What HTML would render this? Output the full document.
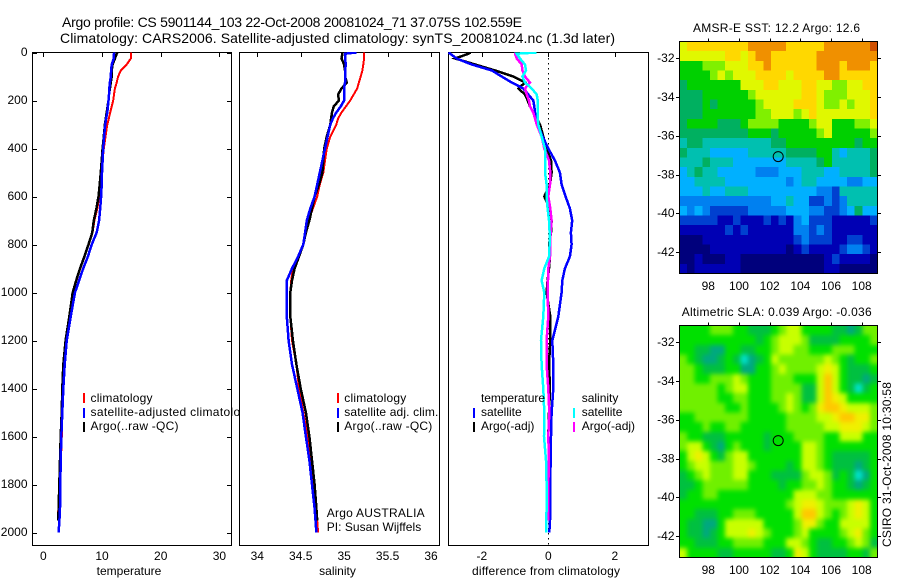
<!DOCTYPE html>
<html lang="en">
<head>
<meta charset="utf-8">
<title>Argo profile</title>
<style>
html,body{margin:0;padding:0;background:#fff;width:900px;height:580px;overflow:hidden}
svg{display:block}
text{font-family:"Liberation Sans",Arial,sans-serif;font-size:12px;fill:#000}
.frame{fill:#fff;stroke:#000;stroke-width:1;shape-rendering:crispEdges}
.bare{fill:none;stroke:#000;stroke-width:1;shape-rendering:crispEdges}
.lg{stroke-width:2;shape-rendering:crispEdges}
</style>
</head>
<body>
<svg id="chart" xmlns="http://www.w3.org/2000/svg" width="900" height="580" viewBox="0 0 900 580">
<defs>
<clipPath id="c1"><rect x="32" y="52" width="199" height="493"/></clipPath>
<clipPath id="c2"><rect x="239" y="52" width="200" height="493"/></clipPath>
<clipPath id="c3"><rect x="448" y="52" width="200" height="493"/></clipPath>
<filter id="soft" x="0" y="0" width="1" height="1" color-interpolation-filters="sRGB">
<feGaussianBlur stdDeviation="2.4"/>
<feComponentTransfer><feFuncA type="linear" slope="3"/></feComponentTransfer>
</filter>
</defs>
<rect x="0" y="0" width="900" height="580" fill="#fff"/>

<text x="62" y="27" style="font-size:14px" textLength="460" lengthAdjust="spacing">Argo profile: CS 5901144_103 22-Oct-2008 20081024_71 37.075S 102.559E</text>
<text x="60" y="43" style="font-size:14px" textLength="555" lengthAdjust="spacing">Climatology: CARS2006. Satellite-adjusted climatology: synTS_20081024.nc (1.3d later)</text>

<g id="panel1">
<rect class="frame" x="32.5" y="52.5" width="199" height="493"/>
<g id="ticks1"></g>
<g id="lines1" clip-path="url(#c1)"></g>
<text x="129" y="575" text-anchor="middle">temperature</text>
<g>
<line class="lg" x1="84" x2="84" y1="393" y2="403" stroke="#ff0000"/>
<text x="90.5" y="402" textLength="62" lengthAdjust="spacing">climatology</text>
<line class="lg" x1="84" x2="84" y1="408" y2="418" stroke="#0000ff"/>
<text x="90.5" y="416" textLength="163" lengthAdjust="spacing">satellite-adjusted climatology</text>
<line class="lg" x1="84" x2="84" y1="422" y2="432" stroke="#000"/>
<text x="90.5" y="430" textLength="88" lengthAdjust="spacing">Argo(..raw -QC)</text>
</g>
</g>

<g id="panel2">
<rect class="frame" x="239.5" y="52.5" width="200" height="493"/>
<g id="ticks2"></g>
<g id="lines2" clip-path="url(#c2)"></g>
<text x="337.5" y="575" text-anchor="middle">salinity</text>
<g>
<line class="lg" x1="338" x2="338" y1="393" y2="403" stroke="#ff0000"/>
<text x="344.3" y="402" textLength="62" lengthAdjust="spacing">climatology</text>
<line class="lg" x1="338" x2="338" y1="408" y2="418" stroke="#0000ff"/>
<text x="344.3" y="416" textLength="94" lengthAdjust="spacing">satellite adj. clim.</text>
<line class="lg" x1="338" x2="338" y1="422" y2="432" stroke="#000"/>
<text x="344.3" y="430" textLength="88" lengthAdjust="spacing">Argo(..raw -QC)</text>
</g>
<text x="326.7" y="517" textLength="98" lengthAdjust="spacing">Argo AUSTRALIA</text>
<text x="326.7" y="531" textLength="94.5" lengthAdjust="spacing">PI: Susan Wijffels</text>
</g>

<g id="panel3">
<rect class="frame" x="448.5" y="52.5" width="200" height="493"/>
<g id="ticks3"></g>
<g id="lines3" clip-path="url(#c3)"></g>
<text x="546" y="575" text-anchor="middle" textLength="148" lengthAdjust="spacing">difference from climatology</text>
<g>
<text x="481" y="402" textLength="64" lengthAdjust="spacing">temperature</text>
<line class="lg" x1="474" x2="474" y1="408" y2="418" stroke="#0000ff"/>
<text x="481" y="416">satellite</text>
<line class="lg" x1="474" x2="474" y1="422" y2="432" stroke="#000"/>
<text x="481" y="430">Argo(-adj)</text>
<text x="581.7" y="402">salinity</text>
<line class="lg" x1="574" x2="574" y1="408" y2="418" stroke="#00ffff"/>
<text x="581.7" y="416">satellite</text>
<line class="lg" x1="574" x2="574" y1="422" y2="432" stroke="#ff00ff"/>
<text x="581.7" y="430">Argo(-adj)</text>
</g>
</g>

<g id="map1">
<text x="693" y="32" textLength="167" lengthAdjust="spacing">AMSR-E SST: 12.2  Argo: 12.6</text>
<g id="cells1"></g>
<rect class="bare" x="679.5" y="41.5" width="198" height="232"/>
<g id="mapticks1"></g>
</g>

<g id="map2">
<text x="681.7" y="316" textLength="190" lengthAdjust="spacing">Altimetric SLA: 0.039  Argo: -0.036</text>
<g id="cells2" filter="url(#soft)"></g>
<rect class="bare" x="679.5" y="325.5" width="198" height="232"/>
<g id="mapticks2"></g>
</g>

<text transform="translate(891,547) rotate(-90)" textLength="165" lengthAdjust="spacing">CSIRO 31-Oct-2008 10:30:58</text>
</svg>

<script>
// ---------- profile data ----------
const depths = [0,5,25,50,75,100,125,150,175,200,225,250,275,300,350,400,450,500,550,600,650,700,750,800,850,900,950,1000,1100,1200,1300,1400,1500,1600,1700,1800,1900,1950,2000];

const tempClim = [14.9,14.9,14.9,14.2,13.2,12.75,12.5,12.2,12.05,11.9,11.65,11.4,11.15,10.9,10.6,10.3,10.1,9.95,9.75,9.55,9.2,8.7,8.4,7.75,7.05,6.3,5.65,5.05,4.5,3.85,3.45,3.3,3.2,3.15,3.0,2.75,2.55,2.5];
const tempSat = [12.05,12.05,12.0,11.65,11.55,11.5,11.35,11.25,11.2,11.1,11.0,10.9,10.7,10.55,10.35,10.2,10.1,10.0,9.95,9.85,9.7,9.5,9.1,8.25,7.6,6.8,6.1,5.4,4.67,3.98,3.64,3.41,3.24,3.07,2.96,2.9,2.84,2.75,2.6];
const tempArgo = [12.6,12.5,12.2,11.8,11.65,11.65,11.5,11.35,11.2,11.1,10.95,10.8,10.65,10.5,10.3,10.1,9.95,9.8,9.6,9.4,9.05,8.6,8.35,7.7,7.0,6.25,5.6,5.0,4.43,3.8,3.41,3.24,3.13,2.96,2.84,2.73,2.6,2.55];

const salClim = [35.23,35.23,35.23,35.22,35.21,35.19,35.17,35.15,35.11,35.07,35.02,34.97,34.93,34.91,34.84,34.80,34.78,34.76,34.72,34.69,34.64,34.59,34.56,34.53,34.47,34.41,34.39,34.38,34.38,34.40,34.45,34.48,34.53,34.58,34.61,34.64,34.67,34.69,34.70];
const salSat = [35.14,35.01,35.01,35.02,35.01,35.01,35.01,35.00,35.00,35.00,34.96,34.91,34.87,34.84,34.81,34.78,34.75,34.72,34.69,34.66,34.61,34.57,34.55,34.53,34.47,34.40,34.34,34.34,34.34,34.36,34.40,34.46,34.52,34.56,34.60,34.63,34.66,34.67,34.68];
const salArgo = [34.98,34.98,34.97,35.00,35.01,35.01,35.03,34.97,34.93,34.94,34.88,34.86,34.85,34.84,34.80,34.77,34.76,34.75,34.71,34.66,34.63,34.60,34.56,34.53,34.48,34.43,34.40,34.38,34.38,34.41,34.45,34.50,34.56,34.60,34.63,34.66,34.68,34.69];

const diffTempSat = [-3.0,-2.95,-2.76,-2.3,-1.7,-1.4,-1.1,-0.75,-0.6,-0.45,-0.42,-0.4,-0.38,-0.32,-0.17,0,0.2,0.35,0.4,0.52,0.65,0.72,0.68,0.7,0.65,0.5,0.42,0.4,0.3,0.12,0.15,0.15,0.1,0.08,0.07,0.06,0.06,0.05,0.03];
const diffTempArgo = [-2.33,-2.4,-2.8,-2.2,-1.6,-1.05,-0.7,-0.9,-0.7,-0.62,-0.55,-0.45,-0.35,-0.25,-0.15,-0.05,0.08,0.1,0.05,-0.12,0.05,0.1,0.08,0.02,0.05,0.02,-0.02,-0.05,0.06,0.06,0.02,0.05,0.02,0,0.02,0.02,0,0];
const diffSalSat = [-0.35,-0.95,-0.85,-0.7,-0.67,-0.78,-0.7,-0.5,-0.35,-0.32,-0.32,-0.32,-0.32,-0.3,-0.2,-0.1,-0.1,-0.1,-0.05,-0.05,-0.02,0.02,0.04,0.04,0.02,-0.12,-0.2,-0.12,-0.15,-0.22,-0.2,-0.15,-0.12,-0.13,-0.07,-0.05,-0.05,-0.06,-0.06];
const diffSalArgo = [-1.0,-1.0,-0.95,-0.8,-0.78,-0.7,-0.55,-0.7,-0.65,-0.58,-0.55,-0.45,-0.4,-0.35,-0.2,-0.12,0.02,0.06,0.05,0,0.06,0.1,0.07,0.05,0.05,0,-0.01,-0.02,0,-0.05,-0.05,0,0.03,0,0.02,0,0,0];

// ---------- tick labels ----------
const depthTicks = [0,200,400,600,800,1000,1200,1400,1600,1800,2000];
const tempTicks = [0,10,20,30];
const salTicks = [34,34.5,35,35.5,36];
const diffTicks = [-2,0,2];
const lonTicks = [98,100,102,104,106,108];
const latTicks = [-32,-34,-36,-38,-40,-42];

// ---------- float position ----------
const floatLon = [102.559];
const floatLat = [-37.075];

// ---------- map data (colour index, north to south) ----------
const sstRows = [
[9,10,10,10,10,10,10,10,10,11,11,11,11,11,10,10,10,10,10,11,11,11,11,11,11,12],
[9,9,9,9,9,9,10,10,9,10,11,11,10,10,10,10,10,10,11,11,11,11,11,11,11,11],
[7,7,7,8,8,8,9,9,9,10,10,11,10,10,10,10,10,10,11,11,11,10,11,11,11,10],
[7,7,7,7,8,9,8,9,9,9,10,10,10,10,9,10,10,10,10,11,11,10,10,10,10,10],
[6,7,7,7,7,7,7,7,9,9,9,10,10,9,9,9,10,10,9,9,8,8,9,9,10,10],
[6,6,6,7,7,7,7,7,7,8,9,9,9,9,9,9,10,10,9,8,8,8,9,9,9,10],
[6,6,6,7,6,7,7,7,7,7,8,9,9,9,9,10,10,10,9,8,8,9,8,9,9,10],
[6,6,6,7,7,7,7,7,7,7,8,8,9,9,9,8,9,10,9,9,9,9,9,9,9,10],
[6,7,7,7,7,6,6,6,7,8,8,8,8,7,7,7,7,8,9,9,7,7,7,8,8,9],
[6,6,6,6,6,6,6,6,6,7,7,7,6,7,7,7,7,7,8,9,7,7,7,7,7,8],
[5,6,6,5,5,5,5,5,5,5,5,5,6,6,7,7,7,7,7,7,7,7,7,6,7,7],
[6,5,5,5,4,4,4,4,4,5,5,5,5,5,6,6,6,6,7,7,5,4,5,5,5,6],
[5,5,5,6,5,5,5,4,4,4,4,4,4,4,5,5,5,5,6,7,5,5,5,5,5,6],
[4,5,6,5,5,4,4,4,4,4,3,3,3,4,4,4,5,5,5,4,4,5,5,5,5,6],
[4,4,5,5,5,5,4,4,4,4,4,4,4,4,3,4,5,5,4,4,4,4,3,3,4,4],
[4,4,4,5,4,4,5,5,5,4,4,4,4,4,4,4,4,4,3,3,2,5,5,5,5,5],
[3,3,3,3,3,3,3,3,3,3,3,3,4,4,5,4,4,2,2,3,2,3,5,5,5,5],
[4,3,4,3,2,2,2,2,2,3,3,3,3,3,4,4,4,3,3,2,2,3,4,6,4,4],
[2,2,2,2,2,1,1,2,1,1,1,2,1,2,1,3,4,2,2,2,1,1,1,1,1,2],
[1,1,1,1,1,1,2,1,2,1,1,1,1,1,1,3,3,2,3,2,1,1,1,1,1,1],
[0,0,0,1,1,1,1,1,1,1,1,1,1,1,1,2,3,2,2,2,1,1,2,2,1,1],
[0,0,0,0,1,1,1,1,1,1,1,1,1,1,0,1,2,1,1,1,1,2,3,3,2,1],
[0,0,1,0,0,0,1,1,0,0,0,0,0,0,0,0,0,0,0,1,2,1,1,1,1,0],
[1,0,1,1,1,1,1,1,0,0,0,0,0,0,0,0,0,0,0,1,1,0,0,0,0,0]
];
const slaRows = [
[3,3,3,3,4,4,4,3,3,2,2,2,3,4,5,5,3,3,3,3,2,2,1,2,4,4],
[3,3,3,3,3,3,3,3,3,3,2,3,4,5,5,5,4,2,2,2,2,3,3,3,3,4],
[3,3,2,2,1,1,3,3,2,2,3,3,4,5,5,4,4,3,3,3,4,4,4,3,3,3],
[4,3,2,1,1,2,3,2,0,1,2,3,5,4,4,4,4,4,4,5,4,3,2,3,3,4],
[4,4,3,2,2,2,3,3,1,1,3,3,4,5,4,4,4,4,5,6,5,3,2,2,2,3],
[4,4,3,3,4,4,4,5,4,3,3,3,4,4,4,3,3,3,5,7,5,3,2,2,1,2],
[4,4,4,4,4,3,4,5,5,3,3,3,4,4,4,4,2,2,5,7,5,3,2,0,2,3],
[4,4,4,4,4,3,3,4,4,3,3,3,4,4,5,4,2,2,5,7,6,5,3,3,3,3],
[4,4,4,4,4,4,3,3,4,3,3,3,3,4,5,4,3,4,6,7,7,6,5,5,5,4],
[3,3,4,4,4,4,4,4,4,3,3,3,3,3,4,4,4,4,5,5,6,7,7,6,6,4],
[3,3,3,4,3,3,4,4,3,3,3,3,3,3,4,4,4,4,4,5,5,6,6,6,5,4],
[4,3,3,2,2,2,3,3,3,3,3,2,3,3,3,4,4,4,4,3,3,5,5,5,3,3],
[4,5,5,3,2,1,3,4,3,3,3,2,3,3,3,3,5,5,4,3,3,3,3,3,3,3],
[3,5,6,5,3,2,4,5,5,3,3,3,3,3,3,3,5,5,4,3,2,2,2,2,2,3],
[3,4,5,5,4,4,4,5,5,4,3,3,3,3,2,3,5,5,4,3,2,2,2,1,2,3],
[2,3,4,5,4,4,4,5,5,3,3,3,2,2,2,2,4,5,5,4,2,3,2,0,1,3],
[2,2,3,4,4,4,4,4,4,3,3,3,3,2,3,3,4,4,5,4,3,3,2,1,2,3],
[2,3,3,4,4,3,3,3,3,3,3,3,3,3,3,5,5,5,4,4,3,3,3,3,3,3],
[3,3,3,3,3,3,3,3,3,3,3,3,3,3,4,5,6,6,5,4,4,4,5,6,5,3],
[3,3,2,2,2,3,3,4,4,4,3,3,3,3,3,5,7,7,5,4,3,4,5,6,5,3],
[3,2,2,1,1,3,5,5,5,5,5,3,3,3,3,4,6,6,4,3,3,5,5,5,5,3],
[3,2,2,1,2,3,5,5,5,6,5,4,3,3,3,4,5,3,3,3,3,4,5,6,4,3],
[3,3,2,2,2,3,3,4,4,4,4,3,3,3,5,5,4,3,2,2,3,3,4,5,4,2],
[5,3,3,3,3,2,2,3,3,3,3,3,2,2,3,6,5,3,2,2,2,2,3,3,2,4]
];
const sstPalette = ['#00007c','#0000b4','#0040d0','#0080f0','#00b0ff','#00c0b0','#00b060','#00d000','#80f000','#e0f800','#ffd800','#f09000','#d05000'];
const slaPalette = ['#00e0c8','#00a880','#00c040','#00e000','#70f000','#c8ff00','#f0f000','#ffc800'];

// ---------- axis functions ----------
const NS = 'http://www.w3.org/2000/svg';
const yDepth = d => 52.5 + d * 0.24;
const xTemp = v => 43.3 + v * 5.87;
const xSal = v => 257.3 + (v - 34) * 86.85;
const xDiff = v => 548.3 + v * 33.25;
const xLon = lon => 708.3 + (lon - 98) * 15.34;
const yLat1 = lat => 58.3 + (-32 - lat) * 19.37;
const yLat2 = lat => 342.3 + (-32 - lat) * 19.37;
const MAP_X0 = 679.5, MAP_W = 198, MAP_H = 232;

function byId(id){ return document.getElementById(id); }

function drawProfile(parent, xFn, values, color, width, name){
  const el = document.createElementNS(NS, 'polyline');
  
  
  const pts = values.map((v, i) => xFn(v).toFixed(1) + ',' + yDepth(depths[i]).toFixed(1));
  el.setAttribute('points', pts.join(' '));
  el.setAttribute('fill', 'none');
  el.setAttribute('stroke', color);
  el.setAttribute('stroke-width', width);
  el.setAttribute('shape-rendering', 'crispEdges');
  parent.appendChild(el);
}

function drawTick(parent, x1, y1, x2, y2){
  const el = document.createElementNS(NS, 'line');
  
  
  el.setAttribute('x1', x1);
  el.setAttribute('y1', y1);
  el.setAttribute('x2', x2);
  el.setAttribute('y2', y2);
  el.setAttribute('stroke', '#000');
  el.setAttribute('stroke-width', 1);
  el.setAttribute('shape-rendering', 'crispEdges');
  parent.appendChild(el);
}

function drawLabel(parent, x, y, anchor, str){
  const el = document.createElementNS(NS, 'text');
  
  
  el.setAttribute('x', x);
  el.setAttribute('y', y);
  el.setAttribute('text-anchor', anchor);
  el.textContent = str;
  parent.appendChild(el);
}

function drawXAxis(parent, ticks, xFn){
  ticks.forEach(t => {
    const x = Math.round(xFn(t)) + 0.5;
    drawTick(parent, x, 52.5, x, 57);
    drawLabel(parent, xFn(t), 560, 'middle', String(t));
  });
}

function hexRgb(h){ return [1,3,5].map(i => parseInt(h.substr(i,2),16)); }
function paletteColor(pal, v){
  const lo = Math.max(0, Math.min(pal.length - 1, Math.floor(v)));
  const hi = Math.min(pal.length - 1, lo + 1);
  const f = Math.max(0, Math.min(1, v - lo));
  const a = hexRgb(pal[lo]), b = hexRgb(pal[hi]);
  return 'rgb(' + a.map((c, i) => Math.round(c + (b[i] - c) * f)).join(',') + ')';
}

function drawCells(parent, rows, pal, top){
  const h = MAP_H / rows.length;
  rows.forEach((row, r) => {
    const w = MAP_W / row.length;
    row.forEach((v, c) => {
      const el = document.createElementNS(NS, 'rect');
      
      
      el.setAttribute('x', (MAP_X0 + c * w).toFixed(2));
      el.setAttribute('y', (top + r * h).toFixed(2));
      el.setAttribute('width', (w + 0.4).toFixed(2));
      el.setAttribute('height', (h + 0.4).toFixed(2));
      el.setAttribute('fill', paletteColor(pal, v));
      el.setAttribute('shape-rendering', 'crispEdges');
      parent.appendChild(el);
    });
  });
}

function drawMapAxes(parent, yFn, top, labelY){
  lonTicks.forEach(t => {
    const x = Math.round(xLon(t)) + 0.5;
    drawTick(parent, x, top - 3, x, top);
    drawLabel(parent, xLon(t), labelY, 'middle', String(t));
  });
  latTicks.forEach(t => {
    const y = Math.round(yFn(t)) + 0.5;
    drawTick(parent, 676, y, 679.5, y);
    drawTick(parent, 877.5, y, 881, y);
    drawLabel(parent, 674.5, yFn(t) + 3.8, 'end', String(t));
  });
  const mark = document.createElementNS(NS, 'circle');
  
  
  mark.setAttribute('cx', xLon(floatLon[0]).toFixed(1));
  mark.setAttribute('cy', yFn(floatLat[0]).toFixed(1));
  mark.setAttribute('r', 5);
  mark.setAttribute('fill', 'none');
  mark.setAttribute('stroke', '#000');
  mark.setAttribute('stroke-width', 1);
  parent.appendChild(mark);
}

// ---------- panel 1 ----------
drawXAxis(byId('ticks1'), tempTicks, xTemp);
depthTicks.forEach(d => {
  const y = Math.round(yDepth(d)) + 0.5;
  drawTick(byId('ticks1'), 32.5, y, 37, y);
  drawTick(byId('ticks1'), 227, y, 231.5, y);
  drawLabel(byId('ticks1'), 27.5, yDepth(d) + 3.5, 'end', String(d));
});
drawProfile(byId('lines1'), xTemp, tempClim, '#ff0000', 2, 'climatology-temperature-line');
drawProfile(byId('lines1'), xTemp, tempArgo, '#000000', 2.5, 'argo-temperature-line');
drawProfile(byId('lines1'), xTemp, tempSat, '#0000ff', 2.5, 'satellite-temperature-line');

// ---------- panel 2 ----------
drawXAxis(byId('ticks2'), salTicks, xSal);
drawProfile(byId('lines2'), xSal, salClim, '#ff0000', 2, 'climatology-salinity-line');
drawProfile(byId('lines2'), xSal, salArgo, '#000000', 2.5, 'argo-salinity-line');
drawProfile(byId('lines2'), xSal, salSat, '#0000ff', 2.5, 'satellite-salinity-line');

// ---------- panel 3 ----------
drawXAxis(byId('ticks3'), diffTicks, xDiff);
const zeroLine = document.createElementNS(NS, 'line');


zeroLine.setAttribute('x1', Math.round(xDiff(0)) + 0.5);
zeroLine.setAttribute('x2', Math.round(xDiff(0)) + 0.5);
zeroLine.setAttribute('y1', 53);
zeroLine.setAttribute('y2', 545);
zeroLine.setAttribute('stroke', '#000');
zeroLine.setAttribute('stroke-width', 1);
zeroLine.setAttribute('stroke-dasharray', '1.5 3.5');
zeroLine.setAttribute('shape-rendering', 'crispEdges');
byId('lines3').appendChild(zeroLine);
drawProfile(byId('lines3'), xDiff, diffTempArgo, '#000000', 2.5, 'temperature-argo-difference-line');
drawProfile(byId('lines3'), xDiff, diffTempSat, '#0000ff', 2.5, 'temperature-satellite-difference-line');
drawProfile(byId('lines3'), xDiff, diffSalArgo, '#ff00ff', 2.5, 'salinity-argo-difference-line');
drawProfile(byId('lines3'), xDiff, diffSalSat, '#00ffff', 2.5, 'salinity-satellite-difference-line');

// ---------- maps ----------
drawCells(byId('cells1'), sstRows, sstPalette, 41.5);
drawCells(byId('cells2'), slaRows, slaPalette, 325.5);
drawMapAxes(byId('mapticks1'), yLat1, 41.5, 290);
drawMapAxes(byId('mapticks2'), yLat2, 325.5, 574);
</script>
</body>
</html>
